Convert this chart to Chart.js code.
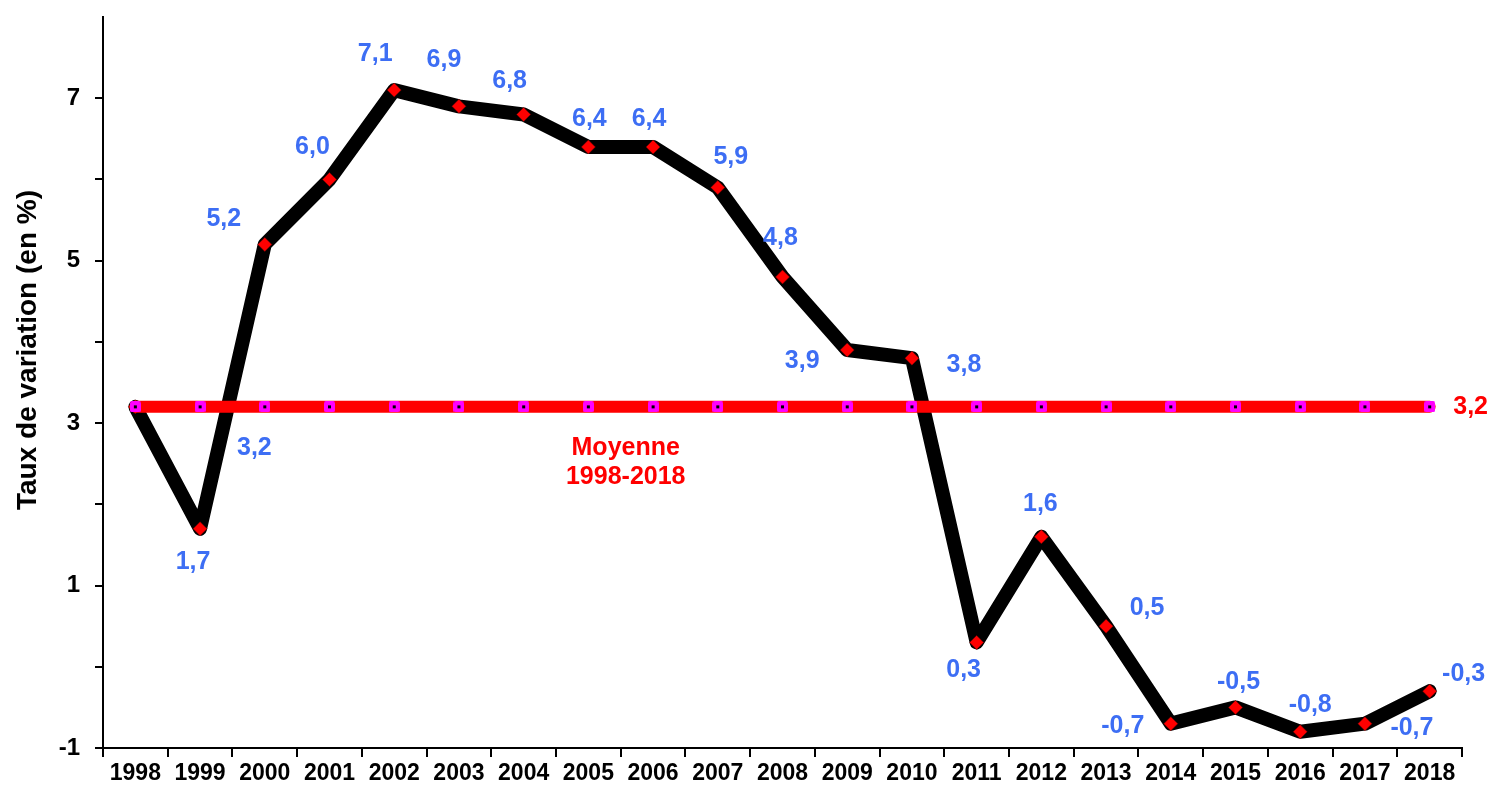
<!DOCTYPE html>
<html>
<head>
<meta charset="utf-8">
<script src="https://cdn.jsdelivr.net/npm/chart.js@4"></script>
<style>
  html, body { margin: 0; padding: 0; background: #fff; }
  #wrap { position: relative; width: 1495px; height: 792px; }
</style>
</head>
<body>
<div id="wrap"><canvas id="chart"></canvas></div>
<script>
/* taux de variation annuel 1998-2018 */
var years = ['1998','1999','2000','2001','2002','2003','2004','2005','2006','2007','2008',
             '2009','2010','2011','2012','2013','2014','2015','2016','2017','2018'];
var rates = [3.2, 1.7, 5.2, 6.0, 7.1, 6.9, 6.8, 6.4, 6.4, 5.9, 4.8,
             3.9, 3.8, 0.3, 1.6, 0.5, -0.7, -0.5, -0.8, -0.7, -0.3];
var meanRate = 3.2;
var meanLine = [3.2, 3.2, 3.2, 3.2, 3.2, 3.2, 3.2, 3.2, 3.2, 3.2, 3.2,
                3.2, 3.2, 3.2, 3.2, 3.2, 3.2, 3.2, 3.2, 3.2, 3.2];
var yTicks = [-1, 1, 3, 5, 7];

var BLUE = '#3d6ef4';
var FONT = '"Liberation Sans", Arial, sans-serif';

// where each value label sits, relative to its point
var labelShift = [
  [119, 41], [-7, 33], [-41, -25], [-17, -32], [-19, -36], [-15, -46], [-14, -33],
  [1, -28], [-4, -28], [13, -30], [-2, -39], [-45, 11], [52, 7], [-13, 28],
  [-1, -33], [41, -18], [-48, 2], [3, -25], [10, -27], [47, 4], [34, -17]
];

function fmt(v) { return v.toFixed(1).replace('.', ','); }

// magenta square marker with a black dot, like the mean series
var mk = document.createElement('canvas');
mk.width = 11; mk.height = 11;
(function(){
  var c = mk.getContext('2d');
  c.fillStyle = '#ff00ff';
  c.beginPath();
  c.roundRect ? c.roundRect(0, 0, 11, 11, 2) : c.rect(0, 0, 11, 11);
  c.fill();
  c.fillStyle = '#000';
  c.fillRect(4, 4, 3, 3);
})();

var labelsPlugin = {
  id: 'labels',
  afterDatasetsDraw: function(chart) {
    var ctx = chart.ctx;
    var meta = chart.getDatasetMeta(0);
    ctx.save();
    ctx.font = 'bold 25px ' + FONT;
    ctx.textAlign = 'center';
    ctx.textBaseline = 'middle';
    ctx.fillStyle = BLUE;
    meta.data.forEach(function(pt, i) {
      var s = labelShift[i];
      ctx.fillText(fmt(rates[i]), pt.x + s[0], pt.y + s[1]);
    });

    // mean line texts
    var mMeta = chart.getDatasetMeta(1);
    var last = mMeta.data[mMeta.data.length - 1];
    ctx.fillStyle = '#ff0000';
    ctx.fillText(fmt(meanRate), last.x + 41, last.y);
    var ym = chart.scales.y.getPixelForValue(meanRate);
    var xm = (chart.scales.x.getPixelForValue(7) + chart.scales.x.getPixelForValue(8)) / 2 + 5;
    ctx.fillText('Moyenne', xm, ym + 41);
    ctx.fillText('1998-2018', xm, ym + 70);

    // y axis title
    ctx.fillStyle = '#000';
    ctx.font = 'bold 28px ' + FONT;
    ctx.translate(28, 350);
    ctx.rotate(-Math.PI / 2);
    ctx.fillText('Taux de variation (en %)', 0, 0);
    ctx.restore();
  }
};

new Chart(document.getElementById('chart'), {
  type: 'line',
  data: {
    labels: years,
    datasets: [
      {
        label: 'Taux de variation',
        data: rates,
        borderColor: '#000',
        borderWidth: 14,
        borderJoinStyle: 'round',
        borderCapStyle: 'round',
        tension: 0,
        pointStyle: 'rectRot',
        pointRadius: 7,
        pointBackgroundColor: '#ff0000',
        pointBorderColor: '#600',
        pointBorderWidth: 0.5,
        order: 2
      },
      {
        label: 'Moyenne 1998-2018',
        data: meanLine,
        borderColor: '#ff0000',
        borderWidth: 12,
        borderCapStyle: 'round',
        tension: 0,
        pointStyle: mk,
        pointRadius: 5,
        order: 1
      }
    ]
  },
  options: {
    responsive: true,
    maintainAspectRatio: false,
    animation: false,
    layout: { padding: { left: 0, right: 33, top: 14, bottom: 0 } },
    plugins: {
      legend: { display: false },
      tooltip: { enabled: false }
    },
    scales: {
      x: {
        offset: true,
        grid: {
          offset: true,
          drawOnChartArea: false,
          drawTicks: true,
          tickLength: 9,
          color: '#000',
          lineWidth: 2
        },
        border: { display: true, color: '#000', width: 2 },
        ticks: {
          color: '#000',
          font: { family: FONT, size: 23, weight: 'bold' },
          padding: 3,
          maxRotation: 0,
          autoSkip: false
        },
        afterFit: function(s) { s.height = 44; s.paddingLeft = 0; s.paddingRight = 0; }
      },
      y: {
        min: -1,
        max: 8,
        grid: {
          drawOnChartArea: false,
          drawTicks: true,
          tickLength: 8,
          color: function(c) { return c.tick && c.tick.value === 8 ? 'rgba(0,0,0,0)' : '#000'; },
          lineWidth: 2
        },
        border: { display: true, color: '#000', width: 2 },
        ticks: {
          stepSize: 1,
          autoSkip: false,
          color: '#000',
          padding: 15,
          font: { family: FONT, size: 24, weight: 'bold' },
          callback: function(v) { return yTicks.indexOf(v) >= 0 ? String(v) : ''; }
        },
        afterFit: function(s) { s.width = 103; s.paddingTop = 0; s.paddingBottom = 0; }
      }
    }
  },
  plugins: [labelsPlugin]
});
</script>
</body>
</html>
